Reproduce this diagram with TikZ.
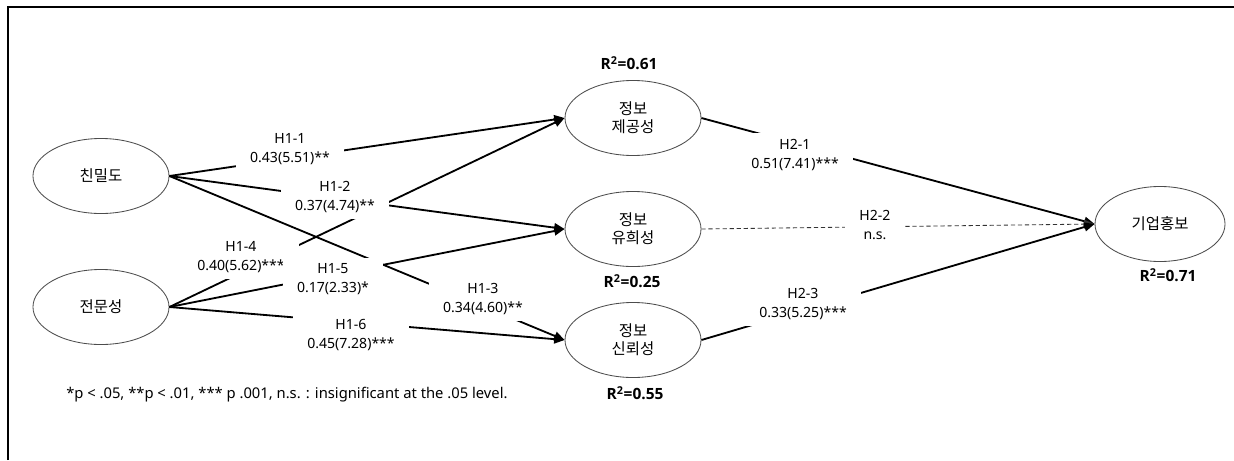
\documentclass[tikz,border=0pt]{standalone}
\usepackage{fontspec}
\setmainfont{Noto Sans}
\newfontfamily\krfont{Noto Sans CJK KR}
\newfontfamily\rsqfont{Open Sans}
\usetikzlibrary{arrows.meta, shapes.geometric}

\begin{document}
\begin{tikzpicture}[x=0.025cm, y=-0.025cm]

\useasboundingbox (0,0) rectangle (1234,460);
\draw [line width=1.1pt] (8,460) -- (8,7) -- (1234,7);

\begin{scope}[every node/.style={ellipse,draw=black!70,line width=0.6pt,minimum width=3.4cm,minimum height=1.875cm,inner sep=0pt,align=center,font=\krfont\fontsize{11}{13}\selectfont}]
    \node (cm) at (101, 176) {친밀도};
    \node (js) at (101, 307) {전문성};

    \node (ip) at (633, 118) {정보\\제공성};
    \node (ih) at (633, 229) {정보\\유희성};
    \node (it) at (633, 340) {정보\\신뢰성};

    \node (cp) at (1160, 224) [minimum width=3.25cm] {기업홍보};
\end{scope}

\begin{scope}[>={Triangle[length=2.6mm, width=2.2mm]},
              every edge/.style={draw=black,line width=1.3pt}]
    \path [->] (cm.east) edge (ip.west);
    \path [->] (cm.east) edge (ih.west);
    \path [->] (cm.east) edge (it.west);

    \path [->] (js.east) edge (ip.west);
    \path [->] (js.east) edge (ih.west);
    \path [->] (js.east) edge (it.west);

    \path [->] (ip.east) edge (cp.west);
    \path [->] (ih.east) edge [draw=black!80, line width=0.6pt, dash pattern=on 3pt off 2pt] (cp.west);
    \path [->] (it.east) edge (cp.west);
\end{scope}

% path labels
\begin{scope}[every node/.style={fill=white,align=center,inner xsep=0.35cm,inner ysep=0.15cm,font=\fontsize{10}{13.5}\selectfont}]
    \node (h11) at (290, 149.5) {H1-1\\0.43(5.51)**};
    \node (h12) at (335, 197.5) {H1-2\\0.37(4.74)**};
    \node (h13) at (483, 299) {H1-3\\0.34(4.60)**};
    \node (h14) at (241, 257.5) {H1-4\\0.40(5.62)***};
    \node (h15) at (333, 279.5) {H1-5\\0.17(2.33)*};
    \node (h16) at (351, 335.5) {H1-6\\0.45(7.28)***};

    \node (h21) at (795, 155) {H2-1\\0.51(7.41)***};
    \node (h22) at (875, 225) {H2-2\\n.s.};
    \node (h23) at (803, 304.5) {H2-3\\0.33(5.25)***};
\end{scope}

\begin{scope}[every node/.style={font=\rsqfont\fontsize{11}{13}\selectfont\bfseries}]
    \node (r1) at (629, 63) {R\textsuperscript{2}=0.61};
    \node (r2) at (632, 281) {R\textsuperscript{2}=0.25};
    \node (r3) at (635, 393) {R\textsuperscript{2}=0.55};
    \node (r4) at (1168, 275) {R\textsuperscript{2}=0.71};
\end{scope}

\node (note) at (66, 395) [anchor=west, inner sep=0pt, font=\fontsize{10.5}{12}\selectfont] {*p < .05, **p < .01, *** p .001, n.s. : insignificant at the .05 level.};

\end{tikzpicture}
\end{document}
